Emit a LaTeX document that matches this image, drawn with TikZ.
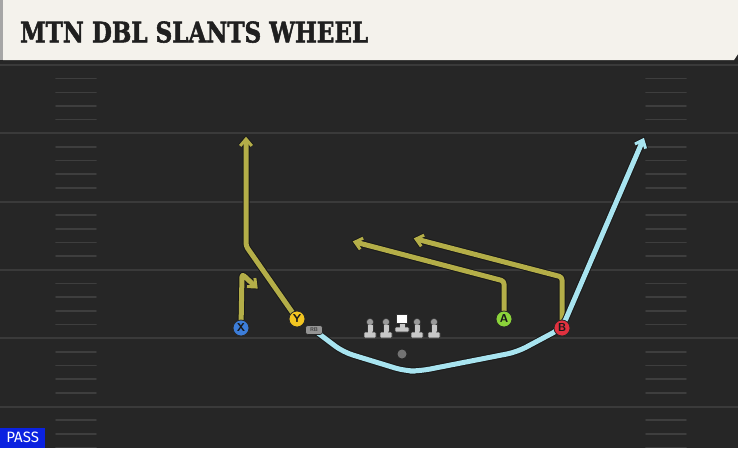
\documentclass[tikz,border=0pt]{standalone}
\usepackage{fontspec}
\setmainfont{DejaVu Sans}
\newfontfamily\titlefont{DejaVu Serif}[BoldFeatures={FakeBold=2}]
\newfontfamily\passfont{Fira Sans}
\usetikzlibrary{calc}
\definecolor{fieldbg}{HTML}{262626}
\definecolor{yardline}{HTML}{3A3A3A}
\definecolor{hashc}{HTML}{3E3E3E}
\definecolor{titlebg}{HTML}{F4F2EC}
\definecolor{yroutec}{HTML}{B4AE48}
\definecolor{croutec}{HTML}{A8E4F0}
\definecolor{xblue}{HTML}{3C7DD9}
\definecolor{yyellow}{HTML}{F2C521}
\definecolor{agreen}{HTML}{8BD33A}
\definecolor{bred}{HTML}{E0313F}
\definecolor{olgray}{HTML}{C8C8C8}
\definecolor{olhead}{HTML}{9A9A9A}
\definecolor{passblue}{HTML}{0B22E0}
\pgfdeclarelayer{field}
\pgfdeclarelayer{routes}
\pgfsetlayers{field,routes,main}
\tikzset{
  player/.style={circle, minimum size=16pt, inner sep=0pt, draw=black!85, line width=0.8pt,
    font=\sffamily\bfseries\fontsize{11.5}{11.5}\selectfont, text=black!90},
  routebase/.style={line width=5pt, rounded corners=3pt, line join=round, line cap=butt},
  yroute/.style={routebase, draw=yroutec},
  croute/.style={routebase, draw=croutec},
  outl/.style={draw=black!90, line width=7pt},
  olman/.style={fill=olgray, draw=black!80, line width=0.6pt},
}
% #1 style, #2 path up to (and including) the point before the tip, #3 that point, #4 tip
\newcommand\routeto[4]{%
  \draw[#1, outl, shorten >=2pt] #2 -- (#4);
  \draw[#1, outl, sharp corners, line join=miter, line width=4.8pt]
    ($(#4)!9pt!40:(#3)$) -- (#4) -- ($(#4)!9pt!-40:(#3)$);
  \draw[#1, shorten >=2pt] #2 -- (#4);
  \draw[#1, sharp corners, line join=miter, line width=3pt]
    ($(#4)!9pt!40:(#3)$) -- (#4) -- ($(#4)!9pt!-40:(#3)$);}
\begin{document}
\begin{tikzpicture}[x=1pt,y=-1pt]
\useasboundingbox (0,0) rectangle (738,448);
\begin{pgfonlayer}{field}
\fill[fieldbg] (0,0) rectangle (738,448);
\foreach \k in {0,...,28}{
  \pgfmathsetmacro{\yy}{65+13.66*\k}
  \pgfmathtruncatemacro{\m}{mod(\k,5)}
  \ifnum\m=0
    \draw[yardline, line width=2pt] (0,\yy) -- (738,\yy);
  \else
    \draw[hashc, line width=1.6pt, line cap=round] (56,\yy) -- (96,\yy);
    \draw[hashc, line width=1.6pt, line cap=round] (646,\yy) -- (686,\yy);
  \fi
}
% title bar
\fill[black!85] (0,58) rectangle (738,64);
\fill[titlebg] (3,0) -- (738,0) -- (738,54) -- (734,60) -- (3,60) -- cycle;
\fill[black!35] (0,0) rectangle (3,60);
\end{pgfonlayer}

\node[anchor=south west, inner sep=0pt, text=black!88] (title) at (20,43)
  {\resizebox{348pt}{21pt}{\titlefont\bfseries MTN DBL SLANTS WHEEL}};

% players
\node[player, fill=xblue] (X) at (241,328) {X};
\node[player, fill=yyellow] (Y) at (297,319) {Y};
\node[player, fill=agreen] (A) at (504,319) {A};
\node[player, fill=bred] (B) at (562,328) {B};
\node[draw=black!85, fill=black!42, rounded corners=2.5pt, line width=0.6pt,
  minimum width=17pt, minimum height=9pt, inner sep=0pt,
  font=\sffamily\bfseries\fontsize{5.5}{5.5}\selectfont, text=black!75] (RB) at (314,330) {RB};
\node[circle, fill=black!55, minimum size=9pt, inner sep=0pt] (QB) at (402,354) {};

% offensive line
\foreach \x in {370,386,417,434}{
  \filldraw[olman] (\x-2.8,324) rectangle (\x+2.8,334);
  \filldraw[olman, rounded corners=1pt] (\x-6,332) rectangle (\x+6,338);
  \filldraw[olman, fill=olhead] (\x,322) circle (3.6);
  \fill[olgray] (\x-2.3,324.5) rectangle (\x+2.3,333);
}
\filldraw[olman] (399,320) rectangle (405,330);
\filldraw[olman, rounded corners=1pt] (395,327) rectangle (409,332);
\fill[olgray] (399.5,321) rectangle (404.5,328);
\filldraw[fill=white, draw=black!80, line width=0.6pt] (396.6,314) rectangle (406.8,323);

% routes
\begin{pgfonlayer}{routes}
\coordinate (x1) at (242,274); \coordinate (x2) at (256,287);
\coordinate (y1) at (246,246); \coordinate (y2) at (246,139);
\coordinate (a1) at (504,281); \coordinate (a2) at (355,242);
\coordinate (b1) at (562,277); \coordinate (b2) at (416,239);
\coordinate (c1) at (343,352); \coordinate (c2) at (405,371);
\coordinate (c3) at (420,371); \coordinate (c4) at (517,352);
\coordinate (c5) at (643,140);
\routeto{yroute}{(X.center) -- (x1)}{x1}{x2}
\routeto{yroute}{(Y.center) -- (y1)}{y1}{y2}
\routeto{yroute}{(A.center) -- (a1)}{a1}{a2}
\routeto{yroute}{(B.center) -- (b1)}{b1}{b2}
\routeto{croute, rounded corners=10pt}{(RB.center) -- (c1) -- (c2) -- (c3) -- (c4) -- (B.center)}{B.center}{c5}
\end{pgfonlayer}

\node[fill=passblue, text=white, anchor=south west, minimum width=45pt, minimum height=20pt,
  inner sep=0pt, font=\passfont\fontsize{15}{15}\selectfont] (pass) at (0,448) {PASS};
\end{tikzpicture}
\end{document}
